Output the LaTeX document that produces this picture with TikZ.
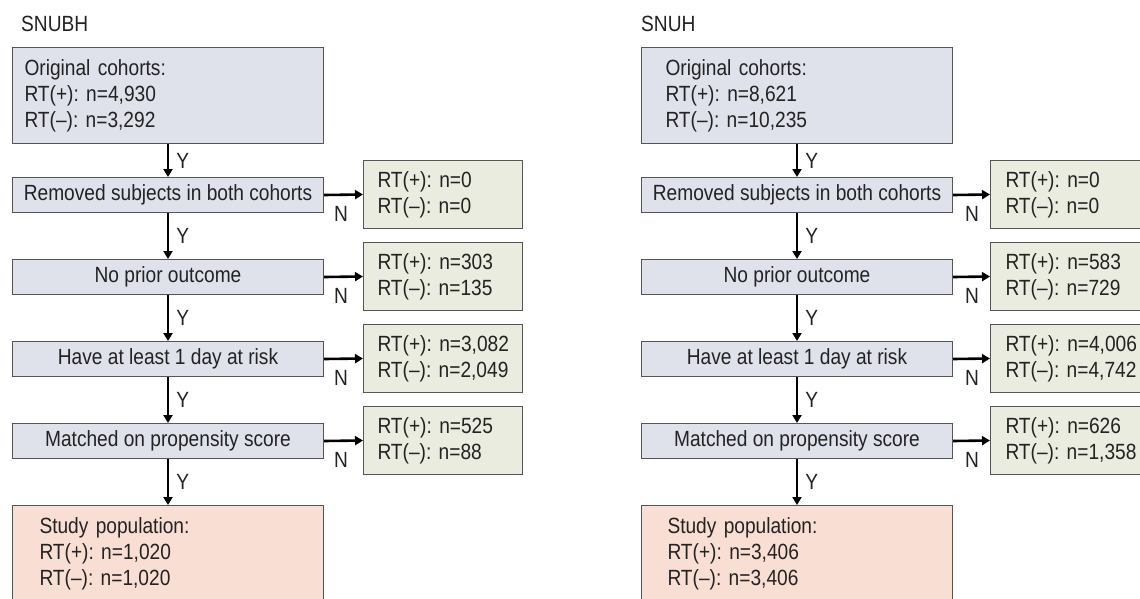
\documentclass[tikz,border=0pt]{standalone}
\usepackage{fontspec}
\setmainfont{Liberation Sans}[FakeStretch=0.87]
\frenchspacing
\usetikzlibrary{arrows.meta,calc}
\definecolor{bluefill}{RGB}{223,225,235}
\definecolor{greenfill}{RGB}{233,236,222}
\definecolor{pinkfill}{RGB}{249,222,211}
\definecolor{boxline}{RGB}{85,85,85}
\definecolor{txt}{RGB}{35,35,35}
\begin{document}
\begin{tikzpicture}[x=1pt,y=-1pt,
  base/.style={draw=boxline, line width=1pt, text=txt, font=\fontsize{22}{26}\selectfont, inner ysep=0pt, anchor=north west},
  stepbox/.style={base, fill=bluefill, minimum width=311pt, minimum height=35pt, inner xsep=0pt, align=center},
  infobox/.style={base, fill=bluefill, minimum width=311pt, minimum height=96pt, align=left},
  outbox/.style={base, fill=greenfill, minimum width=159pt, minimum height=68pt, text width=131pt, align=left},
  popbox/.style={base, fill=pinkfill, minimum width=311pt, minimum height=97pt, align=left},
  arr/.style={draw=black, line width=2.6pt, -{Triangle[length=8pt,width=9pt]}},
  lab/.style={text=txt, font=\fontsize{22}{26}\selectfont, inner sep=0pt},
  title/.style={text=txt, font=\fontsize{22}{26}\selectfont, inner sep=0pt, anchor=base west}
]
\useasboundingbox (0,0) rectangle (1140,598);
\clip (0,0) rectangle (1140,598);
\fill[white] (0,0) rectangle (1140,598);

% ---------- Left panel: SNUBH ----------
\node[title] (Ltitle) at (21,31) {SNUBH};
\node[infobox, inner xsep=12pt, text width=287pt] (Lorig) at (12,47) {Original cohorts:\\RT(+):~n=4,930\\RT(–):~n=3,292};
\node[stepbox] (Lrem) at (12,177) {Removed subjects in both cohorts};
\node[outbox, inner xsep=14pt] (Lg1) at (363,160) {RT(+):~n=0\\RT(–):~n=0};
\node[stepbox] (Lnpo) at (12,259) {No prior outcome};
\node[outbox, inner xsep=14pt] (Lg2) at (363,242) {RT(+):~n=303\\RT(–):~n=135};
\node[stepbox] (Lhave) at (12,341) {Have at least 1 day at risk};
\node[outbox, inner xsep=14pt] (Lg3) at (363,324) {RT(+):~n=3,082\\RT(–):~n=2,049};
\node[stepbox] (Lmat) at (12,423) {Matched on propensity score};
\node[outbox, inner xsep=14pt] (Lg4) at (363,406) {RT(+):~n=525\\RT(–):~n=88};
\node[popbox, inner xsep=27pt, text width=257pt] (Lstudy) at (12,505) {Study population:\\RT(+):~n=1,020\\RT(–):~n=1,020};

\draw[arr] (Lorig.south) -- (Lrem.north) node[lab, midway, anchor=west, xshift=7pt] (LY1) {Y};
\draw[arr] (Lrem.south) -- (Lnpo.north) node[lab, midway, anchor=west, xshift=7pt] (LY2) {Y};
\draw[arr] (Lnpo.south) -- (Lhave.north) node[lab, midway, anchor=west, xshift=7pt] (LY3) {Y};
\draw[arr] (Lhave.south) -- (Lmat.north) node[lab, midway, anchor=west, xshift=7pt] (LY4) {Y};
\draw[arr] (Lmat.south) -- (Lstudy.north) node[lab, midway, anchor=west, xshift=7pt] (LY5) {Y};

\draw[arr] (Lrem.east) -- (Lg1.west);
\draw[arr] (Lnpo.east) -- (Lg2.west);
\draw[arr] (Lhave.east) -- (Lg3.west);
\draw[arr] (Lmat.east) -- (Lg4.west);
\node[lab, anchor=north west] (LN1) at ($(Lrem.east)+(10,11)$) {N};
\node[lab, anchor=north west] (LN2) at ($(Lnpo.east)+(10,11)$) {N};
\node[lab, anchor=north west] (LN3) at ($(Lhave.east)+(10,11)$) {N};
\node[lab, anchor=north west] (LN4) at ($(Lmat.east)+(10,11)$) {N};

% ---------- Right panel: SNUH ----------
\node[title] (Rtitle) at (641,31) {SNUH};
\node[infobox, inner xsep=24pt, text width=263pt] (Rorig) at (641,47) {Original cohorts:\\RT(+):~n=8,621\\RT(–):~n=10,235};
\node[stepbox] (Rrem) at (641,177) {Removed subjects in both cohorts};
\node[outbox, inner xsep=15pt] (Rg1) at (990,160) {RT(+):~n=0\\RT(–):~n=0};
\node[stepbox] (Rnpo) at (641,259) {No prior outcome};
\node[outbox, inner xsep=15pt] (Rg2) at (990,242) {RT(+):~n=583\\RT(–):~n=729};
\node[stepbox] (Rhave) at (641,341) {Have at least 1 day at risk};
\node[outbox, inner xsep=15pt] (Rg3) at (990,324) {RT(+):~n=4,006\\RT(–):~n=4,742};
\node[stepbox] (Rmat) at (641,423) {Matched on propensity score};
\node[outbox, inner xsep=15pt] (Rg4) at (990,406) {RT(+):~n=626\\RT(–):~n=1,358};
\node[popbox, inner xsep=26pt, text width=259pt] (Rstudy) at (641,505) {Study population:\\RT(+):~n=3,406\\RT(–):~n=3,406};

\draw[arr] (Rorig.south) -- (Rrem.north) node[lab, midway, anchor=west, xshift=7pt] (RY1) {Y};
\draw[arr] (Rrem.south) -- (Rnpo.north) node[lab, midway, anchor=west, xshift=7pt] (RY2) {Y};
\draw[arr] (Rnpo.south) -- (Rhave.north) node[lab, midway, anchor=west, xshift=7pt] (RY3) {Y};
\draw[arr] (Rhave.south) -- (Rmat.north) node[lab, midway, anchor=west, xshift=7pt] (RY4) {Y};
\draw[arr] (Rmat.south) -- (Rstudy.north) node[lab, midway, anchor=west, xshift=7pt] (RY5) {Y};

\draw[arr] (Rrem.east) -- (Rg1.west);
\draw[arr] (Rnpo.east) -- (Rg2.west);
\draw[arr] (Rhave.east) -- (Rg3.west);
\draw[arr] (Rmat.east) -- (Rg4.west);
\node[lab, anchor=north west] (RN1) at ($(Rrem.east)+(12,11)$) {N};
\node[lab, anchor=north west] (RN2) at ($(Rnpo.east)+(12,11)$) {N};
\node[lab, anchor=north west] (RN3) at ($(Rhave.east)+(12,11)$) {N};
\node[lab, anchor=north west] (RN4) at ($(Rmat.east)+(12,11)$) {N};
\end{tikzpicture}
\end{document}
